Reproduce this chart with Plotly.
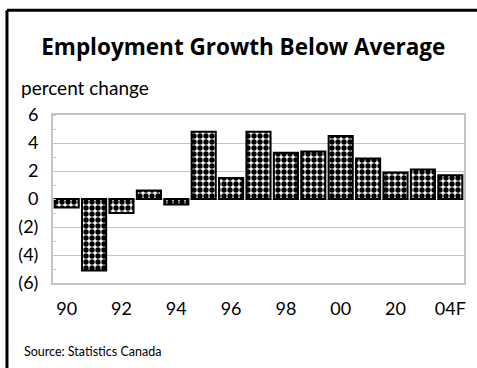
import plotly.graph_objects as go

years = ["1990", "1991", "1992", "1993", "1994", "1995", "1996", "1997",
         "1998", "1999", "2000", "2001", "2002", "2003", "2004"]
growth = [-0.6, -5.1, -1.0, 0.6, -0.4, 4.8, 1.5, 4.8, 3.3, 3.4, 4.5, 2.9, 1.9, 2.1, 1.7]

x_tick_vals = ["1990", "1992", "1994", "1996", "1998", "2000", "2002", "2004"]
x_tick_text = ["90", "92", "94", "96", "98", "00", "20", "04F"]
y_tick_vals = [-6, -4, -2, 0, 2, 4, 6]
y_tick_text = ["(6)", "(4)", "(2)", "0", "2", "4", "6"]

FONT = "Lato, 'Open Sans', sans-serif"
GRID = "#c4c4c4"

fig = go.Figure(go.Bar(
    x=years, y=growth,
    marker=dict(
        color="white",
        line=dict(color="black", width=2),
        pattern=dict(shape=".", fgcolor="black", bgcolor="white", size=6, solidity=0.62,
                     fillmode="replace"),
    ),
    width=0.88,
))

fig.update_layout(
    width=477, height=368,
    margin=dict(l=53, r=13, t=115, b=85),
    paper_bgcolor="white", plot_bgcolor="white",
    showlegend=False,
    font=dict(family=FONT, size=18, color="black"),
    title=dict(text="<b>Employment Growth Below Average</b>", x=0.51, xanchor="center",
               y=0.872, yanchor="middle", font=dict(size=22.5, family="'Open Sans', sans-serif")),
    xaxis=dict(
        type="category", tickmode="array", tickvals=x_tick_vals, ticktext=x_tick_text,
        showline=True, linecolor=GRID, linewidth=2, mirror=True,
        showgrid=False, ticks="", ticklabelstandoff=8, tickfont=dict(size=18),
    ),
    yaxis=dict(
        range=[-6, 6], tickmode="array", tickvals=y_tick_vals, ticktext=y_tick_text,
        showline=True, linecolor=GRID, linewidth=2, mirror=True,
        showgrid=True, gridcolor=GRID, gridwidth=1,
        zeroline=True, zerolinecolor=GRID, zerolinewidth=1,
        ticks="", ticklabelstandoff=9, tickfont=dict(size=18),
        minor=dict(dtick=1, ticks="inside", ticklen=3, tickcolor=GRID, showgrid=False),
    ),
    annotations=[
        dict(text="percent change", xref="paper", yref="paper", x=-0.083, y=1.161,
             xanchor="left", yanchor="middle", showarrow=False, font=dict(size=19)),
        dict(text="Source: Statistics Canada", xref="paper", yref="paper", x=-0.075, y=-0.41,
             xanchor="left", yanchor="middle", showarrow=False, font=dict(size=12.5)),
    ],
    shapes=[
        dict(type="line", xref="paper", yref="paper", x0=-0.112, x1=1.05, y0=1.624, y1=1.624,
             line=dict(color="black", width=3)),
        dict(type="line", xref="paper", yref="paper", x0=-0.112, x1=-0.112, y0=1.624, y1=-0.52,
             line=dict(color="black", width=3)),
    ],
)

fig.write_html("out.html", config={"displayModeBar": False},
               post_script="document.body.style.margin='0';")
